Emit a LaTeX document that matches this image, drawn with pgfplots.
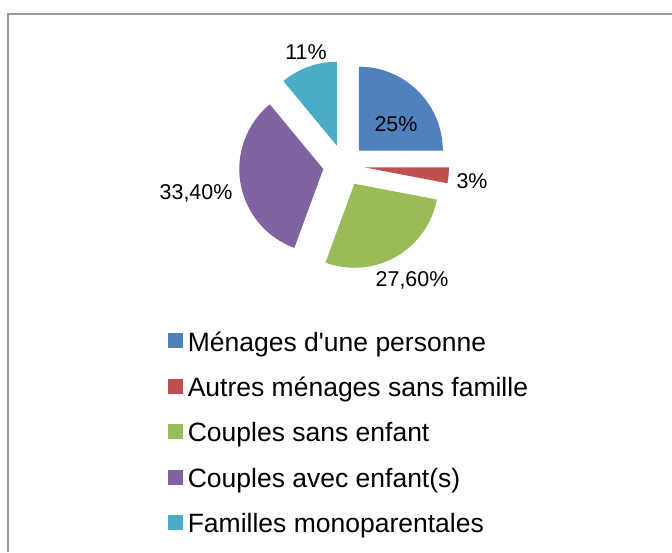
\documentclass[border=0pt]{standalone}
\usepackage{pgfplots}
\pgfplotsset{compat=1.18}
\usepackage{fontspec}
\setmainfont{Liberation Sans}
\usetikzlibrary{calc}
\definecolor{sBlue}{HTML}{4F81BD}
\definecolor{sRed}{HTML}{C0504D}
\definecolor{sGreen}{HTML}{9BBB59}
\definecolor{sPurple}{HTML}{8064A2}
\definecolor{sCyan}{HTML}{4BACC6}

% shares in percent
\def\vA{25}
\def\vB{3}
\def\vC{27.6}
\def\vD{33.4}
\def\vE{11}

% one exploded slice: start angle, end angle, colour
\newcommand\slice[3]{%
  \fill[#3] ($(axis cs:344,386.5)+({(#1+#2)/2}:10.5pt)$) -- ++(#1:42pt)
    arc[start angle=#1, end angle=#2, radius=42pt] -- cycle;}

\begin{document}
\begin{tikzpicture}
\pgfmathsetmacro\aA{90}
\pgfmathsetmacro\aB{\aA-3.6*\vA}
\pgfmathsetmacro\aC{\aB-3.6*\vB}
\pgfmathsetmacro\aD{\aC-3.6*\vC}
\pgfmathsetmacro\aE{\aD-3.6*\vD}
\pgfmathsetmacro\aF{\aE-3.6*\vE}
\begin{axis}[width=336pt, height=276pt, scale only axis,
  xmin=0, xmax=672, ymin=0, ymax=552, axis lines=none, clip=false,
  legend style={at={(axis cs:168,224)}, anchor=north west, draw=none, fill=none,
    inner sep=0pt, outer sep=0pt, row sep=7.7pt, column sep=0.5pt,
    font=\fontsize{13.25}{15}\selectfont,
    cells={anchor=base west, inner sep=0pt, text height=9.5pt, text depth=2.8pt}}]
\coordinate (bl) at (axis cs:0,0);
\coordinate (tr) at (axis cs:672,552);
\draw[gray!80, line width=0.9pt] (axis cs:8,0) -- (axis cs:8,538) -- (axis cs:672,538);

\slice{\aA}{\aB}{sBlue}
\slice{\aB}{\aC}{sRed}
\slice{\aC}{\aD}{sGreen}
\slice{\aD}{\aE}{sPurple}
\slice{\aE}{\aF}{sCyan}

\begin{scope}[font=\fontsize{10.7}{12}\selectfont]
\node at (axis cs:396,428) {25\%};
\node at (axis cs:472,371) {3\%};
\node at (axis cs:412,272) {27,60\%};
\node at (axis cs:196,359) {33,40\%};
\node at (axis cs:306,500) {11\%};
\end{scope}

\addlegendimage{legend image code/.code={\fill[sBlue] (0pt,1.6pt) rectangle (7pt,8.6pt);}}
\addlegendentry{Ménages d\textquotesingle une personne}
\addlegendimage{legend image code/.code={\fill[sRed] (0pt,1.6pt) rectangle (7pt,8.6pt);}}
\addlegendentry{Autres ménages sans famille}
\addlegendimage{legend image code/.code={\fill[sGreen] (0pt,1.6pt) rectangle (7pt,8.6pt);}}
\addlegendentry{Couples sans enfant}
\addlegendimage{legend image code/.code={\fill[sPurple] (0pt,1.6pt) rectangle (7pt,8.6pt);}}
\addlegendentry{Couples avec enfant(s)}
\addlegendimage{legend image code/.code={\fill[sCyan] (0pt,1.6pt) rectangle (7pt,8.6pt);}}
\addlegendentry{Familles monoparentales}
\end{axis}
\pgfresetboundingbox
\path[use as bounding box] (bl) rectangle (tr);
\end{tikzpicture}
\end{document}
